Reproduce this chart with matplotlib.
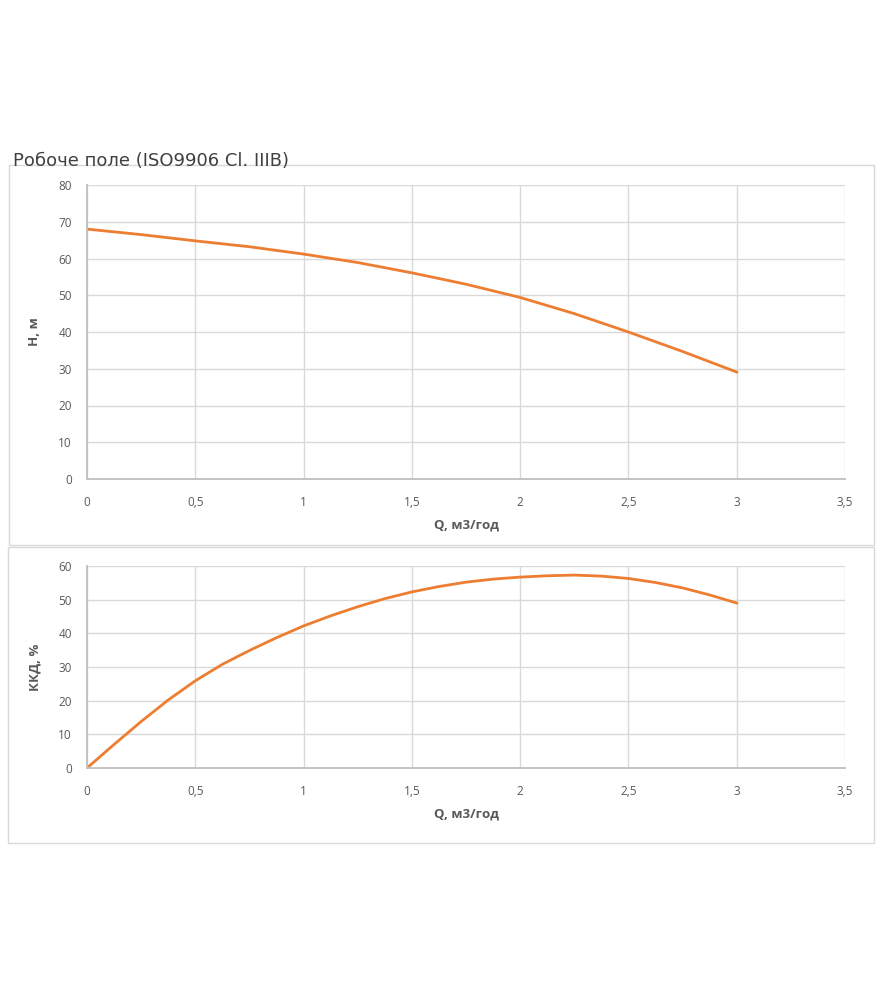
import matplotlib.pyplot as plt
from matplotlib.patches import Rectangle
from matplotlib.ticker import FuncFormatter, MultipleLocator

# flow, m3/h
q = [0, 0.25, 0.5, 0.75, 1, 1.25, 1.5, 1.75, 2, 2.25, 2.5, 2.75, 3]
# head H, m
head = [68, 66.5, 64.8, 63.2, 61.2, 58.9, 56.1, 53.0, 49.4, 45.0, 40.0, 34.7, 29.1]
# efficiency, %
q_eff = [0, 0.125, 0.25, 0.375, 0.5, 0.625, 0.75, 0.875, 1, 1.125, 1.25, 1.375, 1.5,
         1.625, 1.75, 1.875, 2, 2.125, 2.25, 2.375, 2.5, 2.625, 2.75, 2.875, 3]
eff = [0, 7.0, 13.8, 20.2, 25.9, 30.8, 34.9, 38.7, 42.2, 45.2, 47.9, 50.3, 52.3,
       53.9, 55.2, 56.1, 56.7, 57.1, 57.3, 57.0, 56.3, 55.1, 53.5, 51.4, 49.0]

title = 'Робоче поле (ISO9906 Cl. IIIB)'
xlabel = 'Q, м3/год'

W, H = 885, 1000
LINE = '#ED7D31'
GRID = '#D9D9D9'
TXT = '#595959'

plt.rcParams['font.family'] = ['Open Sans', 'DejaVu Sans']


def comma(v, pos):
    s = ('%g' % v)
    return s.replace('.', ',')


def px_axes(fig, left, top, right, bottom):
    return fig.add_axes([left / W, 1 - bottom / H, (right - left) / W, (bottom - top) / H])


def style(ax, ymax, ystep, ylabel):
    ax.set_xlim(0, 3.5)
    ax.set_ylim(0, ymax)
    ax.xaxis.set_major_locator(MultipleLocator(0.5))
    ax.yaxis.set_major_locator(MultipleLocator(ystep))
    ax.xaxis.set_major_formatter(FuncFormatter(comma))
    ax.yaxis.set_major_formatter(FuncFormatter(comma))
    ax.grid(True, color=GRID, linewidth=1)
    ax.set_axisbelow(True)
    for s in ['top', 'right']:
        ax.spines[s].set_visible(False)
    for s in ['left', 'bottom']:
        ax.spines[s].set_color('#BFBFBF')
        ax.spines[s].set_linewidth(1.3)
    ax.tick_params(length=0, labelsize=8.5, labelcolor=TXT, pad=12)
    ax.tick_params(axis='y', pad=11)
    ax.set_xlabel(xlabel, fontsize=9.5, fontweight='bold', color=TXT, labelpad=7)
    ax.set_ylabel(ylabel, fontsize=9.5, fontweight='bold', color=TXT, labelpad=12)


fig = plt.figure(figsize=(W / 100, H / 100), dpi=100)

# chart frames
fig.patches.append(Rectangle((9 / W, 1 - 545 / H), 865 / W, 380 / H, transform=fig.transFigure,
                             fill=False, edgecolor=GRID, linewidth=1))
fig.patches.append(Rectangle((8 / W, 1 - 843 / H), 866 / W, 296 / H, transform=fig.transFigure,
                             fill=False, edgecolor=GRID, linewidth=1))

ax1 = px_axes(fig, 87, 185, 845, 479)
ax1.plot(q, head, color=LINE, linewidth=2)
style(ax1, 80, 10, 'H, м')

ax2 = px_axes(fig, 87, 566, 845, 768)
ax2.plot(q_eff, eff, color=LINE, linewidth=2)
style(ax2, 60, 10, 'ККД, %')

fig.text(13 / W, 1 - 166 / H, title, fontsize=13, color='#404040', va='baseline',
         family=['DejaVu Sans'])

fig.savefig('out.png', dpi=100)
